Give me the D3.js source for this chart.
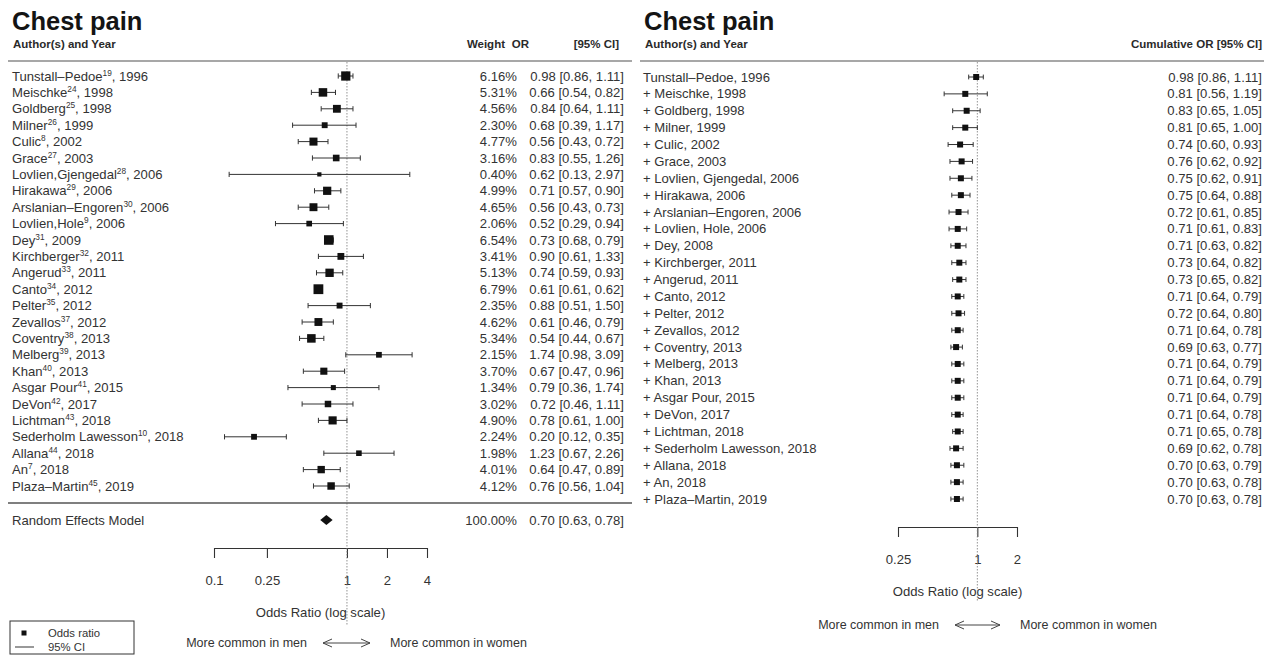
<!DOCTYPE html>
<html>
<head>
<meta charset="utf-8">
<script src="https://cdn.jsdelivr.net/npm/d3@7"></script>
<style>
  html, body { margin: 0; padding: 0; background: #fff; }
  svg { display: block; font-family: "Liberation Sans", Arial, Helvetica, sans-serif; }
</style>
</head>
<body>
<svg id="chart" width="1271" height="655"></svg>
<script>
// ---- Study-level data (left panel) ----
const studies = ["Tunstall\u2013Pedoe", "Meischke", "Goldberg", "Milner", "Culic", "Grace",
  "Lovlien,Gjengedal", "Hirakawa", "Arslanian\u2013Engoren", "Lovlien,Hole", "Dey", "Kirchberger",
  "Angerud", "Canto", "Pelter", "Zevallos", "Coventry", "Melberg", "Khan", "Asgar Pour",
  "DeVon", "Lichtman", "Sederholm Lawesson", "Allana", "An", "Plaza\u2013Martin"];
const refs = ["19", "24", "25", "26", "8", "27", "28", "29", "30", "9", "31", "32",
  "33", "34", "35", "37", "38", "39", "40", "41", "42", "43", "10", "44", "7", "45"];
const years = [1996, 1998, 1998, 1999, 2002, 2003, 2006, 2006, 2006, 2006, 2009, 2011,
  2011, 2012, 2012, 2012, 2013, 2013, 2013, 2015, 2017, 2018, 2018, 2018, 2018, 2019];
const weights = [6.16, 5.31, 4.56, 2.30, 4.77, 3.16, 0.40, 4.99, 4.65, 2.06, 6.54, 3.41,
  5.13, 6.79, 2.35, 4.62, 5.34, 2.15, 3.70, 1.34, 3.02, 4.90, 2.24, 1.98, 4.01, 4.12];
const orValues = [0.98, 0.66, 0.84, 0.68, 0.56, 0.83, 0.62, 0.71, 0.56, 0.52, 0.73, 0.90,
  0.74, 0.61, 0.88, 0.61, 0.54, 1.74, 0.67, 0.79, 0.72, 0.78, 0.20, 1.23, 0.64, 0.76];
const ciLower = [0.86, 0.54, 0.64, 0.39, 0.43, 0.55, 0.13, 0.57, 0.43, 0.29, 0.68, 0.61,
  0.59, 0.61, 0.51, 0.46, 0.44, 0.98, 0.47, 0.36, 0.46, 0.61, 0.12, 0.67, 0.47, 0.56];
const ciUpper = [1.11, 0.82, 1.11, 1.17, 0.72, 1.26, 2.97, 0.90, 0.73, 0.94, 0.79, 1.33,
  0.93, 0.62, 1.50, 0.79, 0.67, 3.09, 0.96, 1.74, 1.11, 1.00, 0.35, 2.26, 0.89, 1.04];

// ---- Pooled random-effects estimate ----
const pooledLabel = "Random Effects Model";
const pooled = { weight: 100.00, or: 0.70, lo: 0.63, hi: 0.78 };

// ---- Cumulative meta-analysis (right panel) ----
const cumLabels = ["Tunstall\u2013Pedoe, 1996", "+ Meischke, 1998", "+ Goldberg, 1998", "+ Milner, 1999",
  "+ Culic, 2002", "+ Grace, 2003", "+ Lovlien, Gjengedal, 2006", "+ Hirakawa, 2006",
  "+ Arslanian\u2013Engoren, 2006", "+ Lovlien, Hole, 2006", "+ Dey, 2008", "+ Kirchberger, 2011",
  "+ Angerud, 2011", "+ Canto, 2012", "+ Pelter, 2012", "+ Zevallos, 2012", "+ Coventry, 2013",
  "+ Melberg, 2013", "+ Khan, 2013", "+ Asgar Pour, 2015", "+ DeVon, 2017", "+ Lichtman, 2018",
  "+ Sederholm Lawesson, 2018", "+ Allana, 2018", "+ An, 2018", "+ Plaza\u2013Martin, 2019"];
const cumOR = [0.98, 0.81, 0.83, 0.81, 0.74, 0.76, 0.75, 0.75, 0.72, 0.71, 0.71, 0.73,
  0.73, 0.71, 0.72, 0.71, 0.69, 0.71, 0.71, 0.71, 0.71, 0.71, 0.69, 0.70, 0.70, 0.70];
const cumLower = [0.86, 0.56, 0.65, 0.65, 0.60, 0.62, 0.62, 0.64, 0.61, 0.61, 0.63, 0.64,
  0.65, 0.64, 0.64, 0.64, 0.63, 0.64, 0.64, 0.64, 0.64, 0.65, 0.62, 0.63, 0.63, 0.63];
const cumUpper = [1.11, 1.19, 1.05, 1.00, 0.93, 0.92, 0.91, 0.88, 0.85, 0.83, 0.82, 0.82,
  0.82, 0.79, 0.80, 0.78, 0.77, 0.79, 0.79, 0.79, 0.78, 0.78, 0.78, 0.79, 0.78, 0.78];

// ---- Axis ticks ----
const leftTicks = [0.1, 0.25, 1, 2, 4];
const rightTicks = [0.25, 1, 2];

const svg = d3.select("#chart");
const f2 = d3.format(".2f");
const ciText = (o, l, h) => `${f2(o)} [${f2(l)}, ${f2(h)}]`;

const TEXT = "#333";
const FS = 13.1;

// Shared helper: panel title + column header + top rule
function header(x0, x1, colTexts) {
  svg.append("text").attr("x", x0 + 4).attr("y", 30)
    .attr("font-size", 25.5).attr("font-weight", "bold").attr("fill", "#141414")
    .text("Chest pain");
  svg.append("text").attr("x", x0 + 5).attr("y", 48)
    .attr("font-size", 11.5).attr("font-weight", "bold").attr("fill", "#2a2a2a")
    .text("Author(s) and Year");
  colTexts.forEach(c => svg.append("text").attr("x", c.x).attr("y", 48)
    .attr("text-anchor", "end").attr("font-size", 11.5).attr("font-weight", "bold")
    .attr("fill", "#2a2a2a").text(c.t));
  svg.append("line").attr("x1", x0).attr("x2", x1).attr("y1", 61).attr("y2", 61)
    .attr("stroke", "#8a8a8a").attr("stroke-width", 1.6);
}

// Shared helper: CI segment with end whiskers
function ciBar(g, x, lo, hi, y, cap) {
  g.append("line").attr("x1", x(lo)).attr("x2", x(hi)).attr("y1", y).attr("y2", y)
    .attr("stroke", "#333").attr("stroke-width", 1);
  [lo, hi].forEach(v => g.append("line").attr("x1", x(v)).attr("x2", x(v))
    .attr("y1", y - cap).attr("y2", y + cap).attr("stroke", "#333").attr("stroke-width", 1));
}

// Shared helper: bottom log axis, caption, and direction arrow
function bottomAxis(x, ticks, yAxis, yLabel, yArrow, arrowX0, arrowX1, refBottom) {
  const ax = svg.append("g").attr("transform", `translate(0,${yAxis})`)
    .call(d3.axisBottom(x).tickValues(ticks).tickFormat(d3.format("~g"))
      .tickSize(10).tickSizeOuter(0).tickPadding(18));
  ax.select(".domain").attr("stroke", "#333").attr("stroke-width", 1.1);
  ax.selectAll(".tick line").attr("stroke", "#333").attr("stroke-width", 1.1);
  ax.selectAll(".tick text").attr("font-size", FS).attr("fill", TEXT)
    .attr("font-family", "Liberation Sans, Arial, sans-serif");
  const [r0, r1] = x.range();
  svg.append("text").attr("x", (r0 + r1) / 2).attr("y", yLabel).attr("text-anchor", "middle")
    .attr("font-size", FS).attr("fill", TEXT).text("Odds Ratio (log scale)");
  svg.append("text").attr("x", arrowX0 - 16).attr("y", yArrow).attr("text-anchor", "end")
    .attr("font-size", FS - 0.6).attr("fill", TEXT).text("More common in men");
  svg.append("text").attr("x", arrowX1 + 20).attr("y", yArrow).attr("text-anchor", "start")
    .attr("font-size", FS - 0.6).attr("fill", TEXT).text("More common in women");
  const ya = yArrow - 4;
  svg.append("line").attr("x1", arrowX0).attr("x2", arrowX1).attr("y1", ya).attr("y2", ya)
    .attr("stroke", "#444").attr("stroke-width", 1);
  svg.append("path").attr("d", `M${arrowX0 + 9},${ya - 4}L${arrowX0},${ya}L${arrowX0 + 9},${ya + 4}`)
    .attr("fill", "none").attr("stroke", "#444").attr("stroke-width", 1);
  svg.append("path").attr("d", `M${arrowX1 - 9},${ya - 4}L${arrowX1},${ya}L${arrowX1 - 9},${ya + 4}`)
    .attr("fill", "none").attr("stroke", "#444").attr("stroke-width", 1);
  // dotted reference line at OR = 1
  svg.append("line").attr("x1", x(1)).attr("x2", x(1)).attr("y1", 62).attr("y2", refBottom)
    .attr("stroke", "#777").attr("stroke-width", 0.8).attr("stroke-dasharray", "1.5,1.5");
}

// ================= Left panel: individual studies =================
{
  const xL = d3.scaleLog().domain([0.1, 4]).range([214, 427]);
  const yL = d3.scalePoint().domain(d3.range(studies.length)).range([76, 486]);
  const wExt = d3.extent(weights);
  const size = d3.scaleLinear().domain(wExt).range([4.2, 9.8]);

  header(8, 632, [{ x: 505, t: "Weight" }, { x: 529, t: "OR" }, { x: 619, t: "[95% CI]" }]);
  bottomAxis(xL, leftTicks, 548, 617, 647, 323, 370, 625);

  const g = svg.append("g");
  studies.forEach((s, i) => {
    const y = yL(i);
    const t = g.append("text").attr("x", 12).attr("y", y + 4.5)
      .attr("font-size", FS).attr("fill", TEXT);
    t.append("tspan").text(s);
    t.append("tspan").attr("font-size", 8.3).attr("dy", -5).text(refs[i]);
    t.append("tspan").attr("dy", 5).text(", " + years[i]);
    ciBar(g, xL, ciLower[i], ciUpper[i], y, 2.6);
    const sz = size(weights[i]);
    g.append("rect").attr("x", xL(orValues[i]) - sz / 2).attr("y", y - sz / 2)
      .attr("width", sz).attr("height", sz).attr("fill", "#111");
    g.append("text").attr("x", 517).attr("y", y + 4.5).attr("text-anchor", "end")
      .attr("font-size", FS).attr("fill", TEXT).text(f2(weights[i]) + "%");
    g.append("text").attr("x", 624).attr("y", y + 4.5).attr("text-anchor", "end")
      .attr("font-size", FS).attr("fill", TEXT).text(ciText(orValues[i], ciLower[i], ciUpper[i]));
  });

  // separator above pooled row
  svg.append("line").attr("x1", 8).attr("x2", 632).attr("y1", 503).attr("y2", 503)
    .attr("stroke", "#555").attr("stroke-width", 1.4);
  const yp = 520;
  g.append("text").attr("x", 12).attr("y", yp + 4.5).attr("font-size", FS).attr("fill", TEXT)
    .text(pooledLabel);
  g.append("path").attr("d",
    `M${xL(pooled.lo)},${yp}L${xL(pooled.or)},${yp - 5}L${xL(pooled.hi)},${yp}L${xL(pooled.or)},${yp + 5}Z`)
    .attr("fill", "#111");
  g.append("text").attr("x", 517).attr("y", yp + 4.5).attr("text-anchor", "end")
    .attr("font-size", FS).attr("fill", TEXT).text(f2(pooled.weight) + "%");
  g.append("text").attr("x", 624).attr("y", yp + 4.5).attr("text-anchor", "end")
    .attr("font-size", FS).attr("fill", TEXT).text(ciText(pooled.or, pooled.lo, pooled.hi));

  // legend
  const lg = svg.append("g");
  lg.append("rect").attr("x", 10).attr("y", 621).attr("width", 124).attr("height", 33)
    .attr("fill", "#fff").attr("stroke", "#333").attr("stroke-width", 1);
  lg.append("rect").attr("x", 24 - 2.5).attr("y", 633 - 2.5).attr("width", 5).attr("height", 5)
    .attr("fill", "#111");
  lg.append("line").attr("x1", 15).attr("x2", 34).attr("y1", 647).attr("y2", 647)
    .attr("stroke", "#555").attr("stroke-width", 1.2);
  lg.append("text").attr("x", 48).attr("y", 637).attr("font-size", 11.3).attr("fill", TEXT).text("Odds ratio");
  lg.append("text").attr("x", 48).attr("y", 651).attr("font-size", 11.3).attr("fill", TEXT).text("95% CI");
}

// ================= Right panel: cumulative estimates =================
{
  const xR = d3.scaleLog().domain([0.25, 2]).range([898, 1017]);
  const yR = d3.scalePoint().domain(d3.range(cumLabels.length)).range([77, 499]);

  header(640, 1264, [{ x: 1262, t: "Cumulative OR [95% CI]" }]);
  bottomAxis(xR, rightTicks, 527, 596, 629, 955, 1000, 602);

  const g = svg.append("g");
  cumLabels.forEach((s, i) => {
    const y = yR(i);
    g.append("text").attr("x", 643).attr("y", y + 4.5).attr("font-size", FS).attr("fill", TEXT).text(s);
    ciBar(g, xR, cumLower[i], cumUpper[i], y, 2.4);
    g.append("rect").attr("x", xR(cumOR[i]) - 3).attr("y", y - 3).attr("width", 6).attr("height", 6)
      .attr("fill", "#111");
    g.append("text").attr("x", 1262).attr("y", y + 4.5).attr("text-anchor", "end")
      .attr("font-size", FS).attr("fill", TEXT).text(ciText(cumOR[i], cumLower[i], cumUpper[i]));
  });
}
</script>
</body>
</html>
